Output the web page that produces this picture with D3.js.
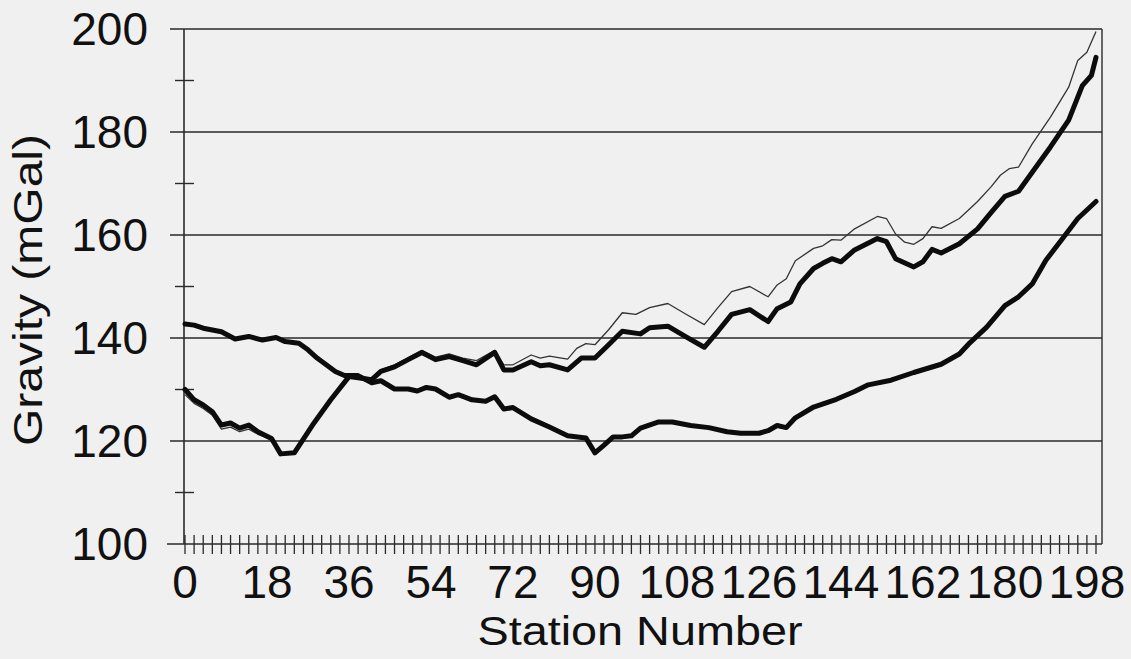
<!DOCTYPE html>
<html>
<head>
<meta charset="utf-8">
<script src="https://cdn.jsdelivr.net/npm/d3@7"></script>
<style>
  html, body { margin: 0; padding: 0; background: #f0f0f0; }
  svg { display: block; }
  text { font-family: "Liberation Sans", Arial, sans-serif; fill: #111; }
</style>
</head>
<body>
<svg id="chart" width="1131" height="659"></svg>
<script>
// Gravity profile along the survey line (mGal vs station number)

// Thin line: observed gravity
const stationsObs = [0,2,4,6,8,10,12,14,16,19,21,24,28,32,36,38,41,43,46,49,52,55,58,61,64,68,70,72,76,78,80,84,86,88,90,93,96,99,102,106,110,114,117,120,124,128,130,132,134,138,140,142,144,147,152,154,156,158,160,162,164,166,170,174,177,179,181,183,186,190,194,196,198,200];
const gravityObs = [129,127.3,126.3,125,122.3,122.7,121.8,122.3,121.3,120.3,117.3,117.5,123.1,128,132.6,132.5,132.2,133.8,134.8,136.2,137.6,136.3,136.9,136.1,135.6,137.6,134.8,134.8,136.7,136.1,136.5,135.9,138,138.9,138.7,141.6,144.9,144.6,145.9,146.7,144.6,142.6,145.9,149,150,148,150.3,151.5,155,157.4,157.9,159.1,159,161.2,163.6,163.2,160.2,158.6,158.2,159.3,161.6,161.3,163.2,166.5,169.4,171.6,172.9,173.2,177.7,182.9,188.7,193.9,195.5,199.5];

// Thick line: corrected profile (starts near 130 mGal)
const stationsCorr = [0,2,4,6,8,10,12,14,16,19,21,24,28,32,36,38,41,43,46,49,52,55,58,61,64,68,70,72,76,78,80,84,87,90,93,96,100,102,106,110,114,117,120,124,128,130,133,135,138,140,142,144,147,152,154,156,160,162,164,166,170,174,177,180,183,186,190,194,197,199,200];
const gravityCorr = [130,128,127,125.7,123.1,123.5,122.5,123.1,121.8,120.5,117.5,117.7,123.1,128,132.5,132.3,131.9,133.5,134.4,135.8,137.2,135.8,136.4,135.6,134.8,137.2,133.8,133.8,135.4,134.6,134.8,133.8,136.1,136.1,138.7,141.3,140.8,142,142.3,140.2,138.2,141.3,144.6,145.5,143.2,145.7,147,150.5,153.5,154.5,155.4,154.8,157.1,159.3,158.7,155.4,153.8,154.8,157.2,156.5,158.3,161.2,164.4,167.5,168.5,172.2,177.1,182.3,189,191,194.5];

// Thick line: regional trend (starts near 142.5 mGal)
const stationsReg = [0,2,4,8,11,14,17,20,22,25,27,29,31,33,35,38,41,43,46,49,51,53,55,58,60,63,66,68,70,72,76,80,84,88,90,92,94,96,98,100,104,107,111,115,119,122,126,128,130,132,134,138,143,147,150,155,160,166,170,172,176,180,183,186,189,193,196,200];
const gravityReg = [142.7,142.5,141.9,141.2,139.8,140.3,139.6,140.1,139.3,139,137.7,136.1,134.8,133.5,132.7,132.7,131.3,131.7,130.1,130.1,129.7,130.4,130.1,128.5,129,128,127.7,128.6,126.2,126.5,124.3,122.7,121,120.6,117.7,119.2,120.8,120.8,121,122.5,123.7,123.7,123,122.6,121.8,121.5,121.5,122,123,122.6,124.5,126.6,128.1,129.6,130.9,131.8,133.3,134.9,136.9,138.8,142.1,146.3,148,150.5,155.1,159.7,163.2,166.5];

// Axis ticks and labels
const yMajorTicks = [100,120,140,160,180,200];
const yMinorTicks = [110,130,150,170,190];
const xTickStations = d3.range(0, 201, 2);
const xLabelStations = [0,18,36,54,72,90,108,126,144,162,180,198];

const svg = d3.select("#chart");

const x = d3.scaleLinear().domain([0, 200]).range([185, 1096]);
const y = d3.scaleLinear().domain([100, 200]).range([544, 29]);
const axisLeft = 184, plotRight = 1102;
const ink = "#2a2a2a";

// Horizontal gridlines (extend left as major ticks)
svg.append("g").selectAll("line")
  .data(yMajorTicks.filter(v => v > 100))
  .join("line")
  .attr("x1", 170).attr("x2", plotRight)
  .attr("y1", d => y(d)).attr("y2", d => y(d))
  .attr("stroke", ink).attr("stroke-width", 1.4);

// Right border of plot area
svg.append("line")
  .attr("x1", plotRight).attr("x2", plotRight)
  .attr("y1", y(200)).attr("y2", y(100))
  .attr("stroke", ink).attr("stroke-width", 1.4);

// Y axis line and ticks
svg.append("line")
  .attr("x1", axisLeft).attr("x2", axisLeft)
  .attr("y1", y(200)).attr("y2", y(100))
  .attr("stroke", ink).attr("stroke-width", 1.6);
svg.append("g").selectAll("line")
  .data(yMinorTicks)
  .join("line")
  .attr("x1", 175).attr("x2", 194)
  .attr("y1", d => y(d)).attr("y2", d => y(d))
  .attr("stroke", ink).attr("stroke-width", 1.4);

// X axis line and ticks
svg.append("line")
  .attr("x1", 167).attr("x2", plotRight)
  .attr("y1", y(100)).attr("y2", y(100))
  .attr("stroke", ink).attr("stroke-width", 1.6);
svg.append("g").selectAll("line")
  .data(xTickStations)
  .join("line")
  .attr("x1", d => x(d)).attr("x2", d => x(d))
  .attr("y1", 535).attr("y2", 554)
  .attr("stroke", ink).attr("stroke-width", 1.3);

// Tick labels
svg.append("g").selectAll("text")
  .data(yMajorTicks)
  .join("text")
  .attr("x", 148)
  .attr("y", d => y(d) + 16)
  .attr("text-anchor", "end")
  .attr("font-size", 46)
  .text(d => d);

svg.append("g").selectAll("text")
  .data(xLabelStations)
  .join("text")
  .attr("x", d => x(d))
  .attr("y", 598)
  .attr("text-anchor", "middle")
  .attr("font-size", 46)
  .text(d => d);

// Axis titles
svg.append("text")
  .attr("transform", "translate(640,645) scale(1.17,1)")
  .attr("text-anchor", "middle")
  .attr("font-size", 40)
  .text("Station Number");

svg.append("text")
  .attr("transform", "translate(42,290) rotate(-90) scale(1.2,1)")
  .attr("text-anchor", "middle")
  .attr("font-size", 40)
  .text("Gravity (mGal)");

// Profiles
const line = d3.line().x(d => x(d[0])).y(d => y(d[1]));

svg.append("path")
  .datum(d3.zip(stationsObs, gravityObs))
  .attr("d", line)
  .attr("fill", "none")
  .attr("stroke", "#333")
  .attr("stroke-width", 1.3)
  .attr("stroke-linejoin", "round");

[[stationsReg, gravityReg], [stationsCorr, gravityCorr]].forEach(([s, g]) => {
  svg.append("path")
    .datum(d3.zip(s, g))
    .attr("d", line)
    .attr("fill", "none")
    .attr("stroke", "#0c0c0c")
    .attr("stroke-width", 5)
    .attr("stroke-linejoin", "round")
    .attr("stroke-linecap", "round");
});
</script>
</body>
</html>
